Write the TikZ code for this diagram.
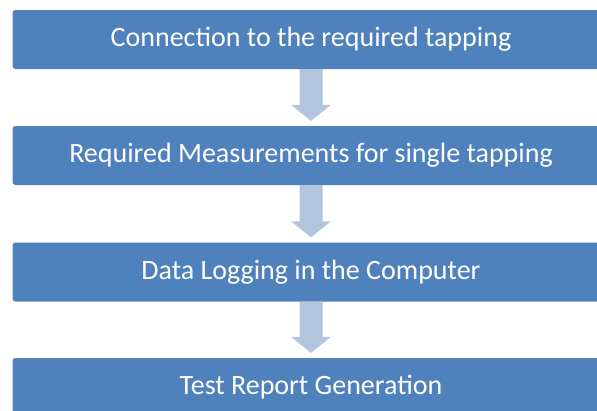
\documentclass[tikz,border=0pt]{standalone}
\usepackage{fontspec}
\setmainfont{Carlito}
\usetikzlibrary{calc}
\definecolor{boxblue}{HTML}{4F81BD}
\definecolor{arrowblue}{HTML}{B3C4DF}

\begin{document}
\begin{tikzpicture}[x=1pt,y=1pt,
  stepbox/.style={fill=boxblue, rounded corners=3pt, minimum width=597pt,
    minimum height=59pt, inner sep=0pt, text=white,
    font=\fontsize{28}{32}\selectfont},
  blockarrow/.style={fill=arrowblue}]
  \useasboundingbox (0,0) rectangle (597,-410);
  \node[stepbox] (connect) at (311,-39.5) {Connection to the required tapping};
  \node[stepbox] (measure) at (311,-155.5) {Required Measurements for single tapping};
  \node[stepbox] (logging) at (311,-272) {Data Logging in the Computer};
  \node[stepbox] (report) at (311,-387.5) {Test Report Generation};
  \foreach \a/\b in {connect/measure, measure/logging, logging/report}
    \fill[blockarrow] ($(\a.south)+(-11.5,0)$) -- ($(\a.south)+(11.5,0)$)
      -- ($(\b.north)+(11.5,21)$) -- ($(\b.north)+(20,21)$)
      -- ($(\b.north)+(0,5)$) -- ($(\b.north)+(-20,21)$)
      -- ($(\b.north)+(-11.5,21)$) -- cycle;
\end{tikzpicture}
\end{document}
